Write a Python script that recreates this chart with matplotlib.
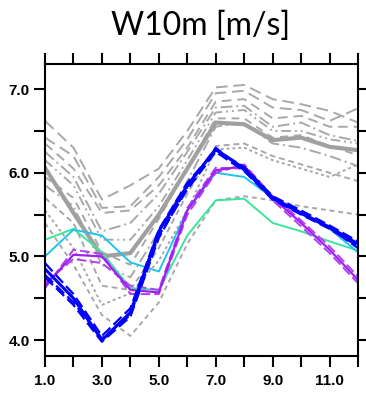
import matplotlib
matplotlib.use("Agg")
import matplotlib.pyplot as plt
import numpy as np

months = [1, 2, 3, 4, 5, 6, 7, 8, 9, 10, 11, 12]

# gray ensemble members
gray_members = [
    [6.62, 6.30, 5.68, 5.85, 6.05, 6.50, 7.02, 7.05, 6.88, 6.82, 6.74, 6.60],
    [6.42, 6.20, 5.58, 5.60, 5.95, 6.40, 6.95, 6.98, 6.78, 6.75, 6.62, 6.77],
    [6.35, 6.05, 5.52, 5.55, 5.85, 6.30, 6.85, 6.88, 6.65, 6.68, 6.55, 6.55],
    [6.25, 5.95, 5.30, 5.40, 5.75, 6.25, 6.78, 6.80, 6.55, 6.60, 6.45, 6.38],
    [6.15, 5.85, 5.20, 5.20, 5.60, 6.15, 6.72, 6.75, 6.50, 6.50, 6.40, 6.35],
    [5.95, 5.70, 5.05, 4.90, 5.45, 6.05, 6.65, 6.65, 6.42, 6.45, 6.32, 6.21],
    [5.85, 5.60, 4.90, 4.75, 5.30, 5.90, 6.55, 6.60, 6.35, 6.30, 6.20, 6.08],
    [5.70, 5.40, 4.65, 4.60, 5.10, 5.75, 6.32, 6.35, 6.20, 6.10, 6.00, 5.90],
    [5.55, 5.10, 4.42, 4.56, 4.95, 5.55, 6.28, 6.30, 6.15, 6.05, 5.95, 6.10],
    [5.40, 4.90, 4.30, 4.05, 4.45, 5.15, 5.67, 5.72, 5.67, 5.60, 5.55, 5.50],
]
gray_styles = [(0, (6, 3)), (0, (6, 3)), (0, (5, 3)), (0, (6, 2, 1, 2)),
               (0, (5, 2, 1, 2, 1, 2)), (0, (4, 3)), (0, (6, 2, 1, 2)),
               (0, (3, 2)), (0, (1.5, 1.5)), (0, (2.5, 2))]

gray_mean = [6.06, 5.52, 5.00, 5.04, 5.50, 6.05, 6.60, 6.58, 6.39, 6.42, 6.31, 6.27]

blue = [4.85, 4.50, 4.00, 4.33, 5.30, 5.85, 6.28, 6.05, 5.70, 5.52, 5.35, 5.15]
blue_var = [
    [4.78, 4.45, 4.02, 4.30, 5.25, 5.80, 6.25, 6.02, 5.68, 5.50, 5.33, 5.12],
    [4.92, 4.55, 4.05, 4.38, 5.32, 5.88, 6.27, 6.07, 5.72, 5.55, 5.37, 5.18],
    [4.75, 4.42, 3.98, 4.28, 5.22, 5.83, 6.30, 6.03, 5.69, 5.51, 5.34, 5.10],
]
purple = [4.65, 5.02, 5.00, 4.60, 4.57, 5.55, 6.03, 6.08, 5.70, 5.40, 5.08, 4.72]
purple_var = [
    [4.68, 4.97, 4.92, 4.65, 4.60, 5.58, 6.06, 6.05, 5.67, 5.36, 5.04, 4.68],
    [4.62, 5.08, 5.03, 4.55, 4.55, 5.50, 6.00, 6.10, 5.72, 5.43, 5.12, 4.76],
]
cyan = [5.00, 5.32, 5.25, 4.93, 4.82, 5.55, 6.00, 5.95, 5.70, 5.52, 5.33, 5.05]
green = [5.20, 5.33, 5.05, 4.62, 4.60, 5.25, 5.67, 5.69, 5.40, 5.30, 5.18, 5.07]

title = "W10m [m/s]"
xticks = [1, 2, 3, 4, 5, 6, 7, 8, 9, 10, 11, 12]
xticklabels = ["1.0", "", "3.0", "", "5.0", "", "7.0", "", "9.0", "", "11.0", ""]
yticks = [4.0, 4.5, 5.0, 5.5, 6.0, 6.5, 7.0]
yticklabels = ["4.0", "", "5.0", "", "6.0", "", "7.0"]

fig = plt.figure(figsize=(3.66, 3.97), dpi=100)
ax = fig.add_axes([45/366, 1-356/397, (358-45)/366, (356-64)/397])

gcol = "#a8a8a8"
for m, ls in zip(gray_members, gray_styles):
    ax.plot(months, m, color=gcol, lw=1.4, ls=ls)
ax.plot(months, gray_mean, color="#a0a0a0", lw=3.0, solid_joinstyle="miter")

ax.plot(months, green, color="#3ce49c", lw=1.4)
ax.plot(months, cyan, color="#1ec3ee", lw=1.4)
for v in purple_var:
    ax.plot(months, v, color="#b040f0", lw=1.4, ls=(0, (5, 2)))
ax.plot(months, purple, color="#a020f0", lw=1.6)
for v in blue_var:
    ax.plot(months, v, color="#0000ff", lw=1.6, ls=(0, (5, 2)))
ax.plot(months, blue, color="#0000ff", lw=2.2)

ax.set_xlim(1, 12)
ax.set_ylim(3.81, 7.3)
ax.set_xticks(xticks)
ax.set_xticklabels(xticklabels)
ax.set_yticks(yticks)
ax.set_yticklabels(yticklabels)
for s in ax.spines.values():
    s.set_linewidth(1.5)
ax.tick_params(direction="out", length=8, width=1.5, top=True, right=True,
               labelsize=11)
ax.tick_params(axis="x", pad=5)
ax.tick_params(axis="y", pad=3)
for lab in ax.get_xticklabels() + ax.get_yticklabels():
    lab.set_fontfamily("Liberation Sans")
    lab.set_fontweight("bold")

fig.text(201/366, 1-35/397, title, ha="center", va="baseline",
         fontsize=23, family="Lato")

fig.savefig("out.png", dpi=100)
